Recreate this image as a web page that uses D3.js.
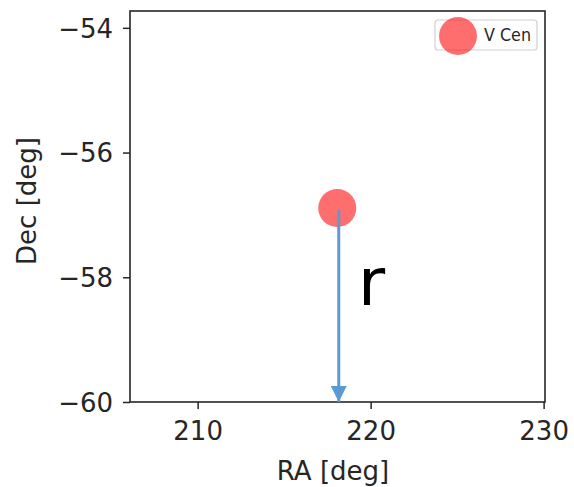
<!DOCTYPE html>
<html>
<head>
<meta charset="utf-8">
<script src="https://cdn.jsdelivr.net/npm/d3@7"></script>
<style>
  html, body { margin: 0; padding: 0; background: #fff; }
  svg { display: block; }
  text { font-family: "DejaVu Sans", sans-serif; }
</style>
</head>
<body>
<script>
// Star position (degrees)
const starNames = ["V Cen"];
const starRA = [218.07];
const starDec = [-56.89];

// Axis ticks and ranges
const raTicks = [210, 220, 230];
const decTicks = [-60, -58, -56, -54];
const raDomain = [206.09, 230.08];
const decDomain = [-60, -53.73];

// Lower edge of the radius arrow (declination)
const arrowDecEnd = [-60];

const W = 574, H = 487;
const plot = { left: 130, right: 545, top: 11, bottom: 402 };

const svg = d3.select("body").append("svg")
  .attr("width", W).attr("height", H);

const x = d3.scaleLinear().domain(raDomain).range([plot.left, plot.right]);
const y = d3.scaleLinear().domain(decDomain).range([plot.bottom, plot.top]);

const axisColor = "#262626";
const fmt = d3.format("d");

// X axis
const gx = svg.append("g")
  .attr("transform", `translate(0,${plot.bottom})`)
  .call(d3.axisBottom(x).tickValues(raTicks).tickFormat(fmt).tickSize(7).tickPadding(13).tickSizeOuter(0));
gx.select(".domain").remove();
gx.selectAll(".tick line").attr("stroke", axisColor).attr("stroke-width", 1.5);
gx.selectAll(".tick text").attr("fill", axisColor).attr("font-size", 26)
  .attr("font-family", "DejaVu Sans").attr("dy", "0.71em");

// Y axis
const gy = svg.append("g")
  .attr("transform", `translate(${plot.left},0)`)
  .call(d3.axisLeft(y).tickValues(decTicks).tickFormat(fmt).tickSize(7).tickPadding(10).tickSizeOuter(0));
gy.select(".domain").remove();
gy.selectAll(".tick line").attr("stroke", axisColor).attr("stroke-width", 1.5);
gy.selectAll(".tick text").attr("fill", axisColor).attr("font-size", 26)
  .attr("font-family", "DejaVu Sans").attr("dy", "0.36em");

// Frame
svg.append("rect")
  .attr("x", plot.left).attr("y", plot.top)
  .attr("width", plot.right - plot.left).attr("height", plot.bottom - plot.top)
  .attr("fill", "none").attr("stroke", axisColor).attr("stroke-width", 1.6);

// Axis labels
svg.append("text")
  .attr("x", 333).attr("y", 480)
  .attr("text-anchor", "middle").attr("font-size", 26).attr("fill", axisColor)
  .text("RA [deg]");
svg.append("text")
  .attr("transform", "translate(36,201) rotate(-90)")
  .attr("text-anchor", "middle").attr("font-size", 26).attr("fill", axisColor)
  .text("Dec [deg]");

// Star marker
svg.append("g").selectAll("circle")
  .data(starRA.map((ra, i) => ({ ra, dec: starDec[i] })))
  .join("circle")
  .attr("cx", d => x(d.ra)).attr("cy", d => y(d.dec))
  .attr("r", 19)
  .attr("fill", "#ff0000").attr("fill-opacity", 0.57);

// Radius arrow from the star down to the lower declination edge
const defs = svg.append("defs");
defs.append("marker")
  .attr("id", "arrowHead")
  .attr("viewBox", "0 0 16 16")
  .attr("refX", 16).attr("refY", 8)
  .attr("markerWidth", 16).attr("markerHeight", 16)
  .attr("markerUnits", "userSpaceOnUse")
  .attr("orient", "auto")
  .append("path")
  .attr("d", "M0,0 L16,8 L0,16 Z")
  .attr("fill", "#5b9bd5");

const ax = x(starRA[0]) + 1.5;
svg.append("line")
  .attr("x1", ax).attr("y1", y(starDec[0]) + 2)
  .attr("x2", ax).attr("y2", y(arrowDecEnd[0]))
  .attr("stroke", "#5b9bd5").attr("stroke-width", 3)
  .attr("marker-end", "url(#arrowHead)");

svg.append("text")
  .attr("x", 358).attr("y", 305)
  .attr("font-family", "Liberation Sans, Arial, sans-serif")
  .attr("font-size", 66).attr("fill", "#000")
  .text("r");

// Legend
const lg = svg.append("g");
lg.append("rect")
  .attr("x", 435).attr("y", 20).attr("width", 102).attr("height", 30)
  .attr("rx", 3).attr("fill", "#fff").attr("fill-opacity", 0.8)
  .attr("stroke", "#d0d0d0").attr("stroke-width", 1.2);
lg.append("circle")
  .attr("cx", 458).attr("cy", 36).attr("r", 19)
  .attr("fill", "#ff0000").attr("fill-opacity", 0.57);
lg.append("text")
  .attr("x", 484).attr("y", 41)
  .attr("font-size", 18).attr("fill", axisColor)
  .attr("textLength", 47).attr("lengthAdjust", "spacingAndGlyphs")
  .text(starNames[0]);
</script>
</body>
</html>
